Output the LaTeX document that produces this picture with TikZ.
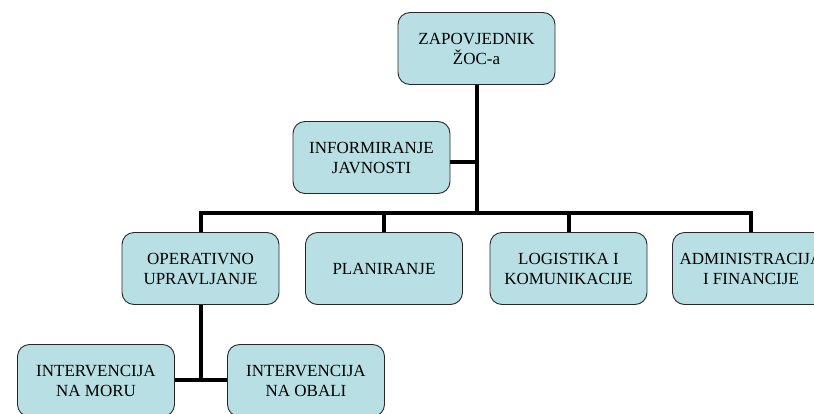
\documentclass[tikz,border=0pt]{standalone}
\usepackage{fontspec}
\setmainfont{Liberation Serif}
\definecolor{boxfill}{RGB}{184,223,227}
\definecolor{boxline}{RGB}{40,40,40}
\begin{document}
\begin{tikzpicture}[x=1pt,y=-1pt,
  orgbox/.style={draw=boxline, line width=0.9pt, fill=boxfill, rounded corners=12pt,
    minimum width=157pt, minimum height=72pt, align=center, inner sep=2pt,
    font=\fontsize{17}{20}\selectfont},
  conn/.style={line width=4pt, draw=black}]
\useasboundingbox (0,0) rectangle (814,413);
\clip (0,0) rectangle (814,413);
\node[orgbox] (top) at (476.5,48.5) {ZAPOVJEDNIK\\ŽOC-a};
\node[orgbox] (info) at (371.5,157.5) {INFORMIRANJE\\JAVNOSTI};
\node[orgbox] (oper) at (200.5,268.5) {OPERATIVNO\\UPRAVLJANJE};
\node[orgbox] (plan) at (384,268.5) {PLANIRANJE};
\node[orgbox] (log) at (568.5,268.5) {LOGISTIKA I\\KOMUNIKACIJE};
\node[orgbox] (adm) at (751,268.5) {ADMINISTRACIJA\\I FINANCIJE};
\node[orgbox] (mor) at (96,380.5) {INTERVENCIJA\\NA MORU};
\node[orgbox] (obal) at (306,380.5) {INTERVENCIJA\\NA OBALI};
\coordinate (bar) at (476,213);
\coordinate (low) at (201,380);
\draw[conn] (top.south) -- (top.south |- bar);
\draw[conn] (info.east |- 0,162) -- (top.south |- 0,162);
\draw[conn, line cap=rect] (oper.north |- bar) -- (adm.north |- bar);
\draw[conn] (oper.north |- bar) -- (oper.north);
\draw[conn] (plan.north |- bar) -- (plan.north);
\draw[conn] (log.north |- bar) -- (log.north);
\draw[conn] (adm.north |- bar) -- (adm.north);
\draw[conn] (oper.south) -- (oper.south |- low);
\draw[conn] (mor.east |- low) -- (obal.west |- low);
\end{tikzpicture}
\end{document}
